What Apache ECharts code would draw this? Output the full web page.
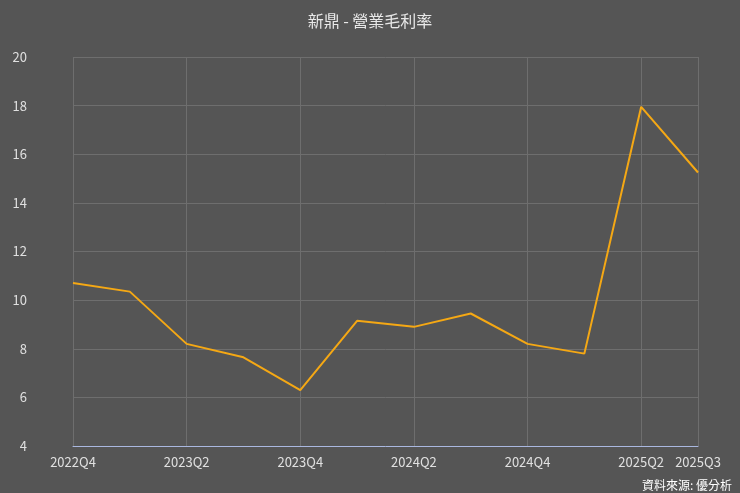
<!DOCTYPE html>
<html><head><meta charset="utf-8">
<script src="https://cdn.jsdelivr.net/npm/echarts@6/dist/echarts.min.js"></script>
<style>html,body{margin:0;padding:0;background:#555555;}#c{width:740px;height:493px;}</style>
</head><body><div id="c"></div>
<script>
const categories = ['2022Q4','2023Q1','2023Q2','2023Q3','2023Q4','2024Q1','2024Q2','2024Q3','2024Q4','2025Q1','2025Q2','2025Q3'];
const grossMargin = [10.7,10.35,8.2,7.65,6.3,9.15,8.9,9.45,8.2,7.8,17.95,15.25];
const shownLabels = ['2022Q4','2023Q2','2023Q4','2024Q2','2024Q4','2025Q2','2025Q3'];
const chart = echarts.init(document.getElementById('c'));
const font = '"Noto Sans CJK TC", sans-serif';
chart.setOption({
  backgroundColor:'#555555',
  animation:false,
  title:{text:'新鼎 - 營業毛利率',left:'center',top:8,textStyle:{color:'#e8e8e8',fontSize:16,fontWeight:'normal',fontFamily:font}},
  graphic:[{type:'text',right:8,bottom:2,style:{text:'資料來源: 優分析',fill:'#ffffff',fontSize:12,fontFamily:font}}],
  grid:{left:73,right:42,top:57,bottom:47},
  xAxis:{type:'category',data:categories,boundaryGap:false,
    axisLine:{lineStyle:{color:'#aab8e0'}},axisTick:{show:false},
    axisLabel:{color:'#e0e0e0',fontSize:13,fontFamily:font,margin:10,interval:(i,v)=>shownLabels.includes(v)},
    splitLine:{show:true,interval:(i,v)=>shownLabels.includes(v),lineStyle:{color:'#6e6e6e'}}},
  yAxis:{type:'value',min:4,max:20,interval:2,
    axisLine:{show:false},axisTick:{show:false},
    axisLabel:{color:'#e0e0e0',fontSize:13,fontFamily:font,margin:46,align:'right',padding:[0,0,0,0]},
    splitLine:{lineStyle:{color:'#6e6e6e'}}},
  series:[{type:'line',data:grossMargin,symbol:'none',lineStyle:{color:'#f5a814',width:2}}]
});
</script></body></html>
